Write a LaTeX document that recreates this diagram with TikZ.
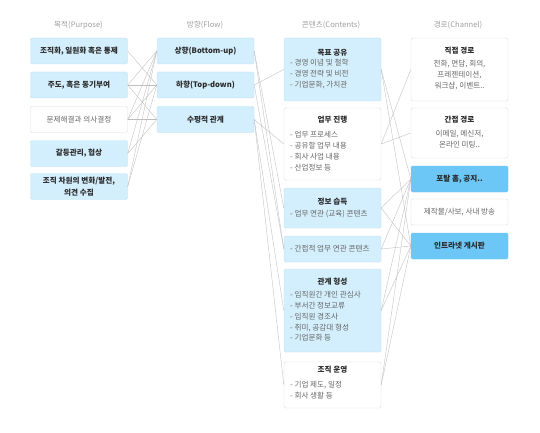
\documentclass[tikz,border=0pt]{standalone}
\usepackage{fontspec}
\setmainfont{Noto Sans CJK KR}
\usetikzlibrary{positioning}

\definecolor{boxblue}{HTML}{D3EEFC}
\definecolor{blueedge}{HTML}{C2E3F5}
\definecolor{deepblue}{HTML}{6CC7F6}
\definecolor{boxedge}{HTML}{DEDEDE}
\definecolor{textdark}{HTML}{2A2A2A}
\definecolor{textgray}{HTML}{666666}
\definecolor{headgray}{HTML}{A0A0A0}
\definecolor{linkgray}{HTML}{BDBDBD}

\newcommand\boxfont{\fontsize{7.6}{11}\selectfont}

\tikzset{
  box/.style={draw=boxedge, line width=0.4pt, rounded corners=1.5pt,
    minimum width=97pt, minimum height=26pt, inner sep=0pt},
  bluebox/.style={box, fill=boxblue, draw=blueedge, font=\boxfont\bfseries, text=textdark},
  whitebox/.style={box, fill=white, font=\boxfont, text=textgray},
  deepbox/.style={box, fill=deepblue, draw=deepblue, font=\boxfont\bfseries, text=textdark},
  head/.style={font=\boxfont, text=headgray, inner sep=0pt},
  title/.style={font=\boxfont\bfseries, text=textdark, inner sep=0pt},
  items/.style={font=\boxfont, text=textgray, inner sep=0pt},
  link/.style={draw=linkgray, line width=0.35pt},
}

\begin{document}
\begin{tikzpicture}[x=1pt, y=-1pt]
  \useasboundingbox[fill=white] (0,0) rectangle (540,433);

  % column heads
  \node[head] (hpurpose) at (78.5,25) {목적(Purpose)};
  \node[head] (hflow)    at (205,25)  {방향(Flow)};
  \node[head] (hcontent) at (331,25)  {콘텐츠(Contents)};
  \node[head] (hchannel) at (458,25)  {경로(Channel)};

  % purpose
  \node[bluebox]  (p1) at (79,51)    {조직화, 일원화 혹은 통제};
  \node[bluebox]  (p2) at (79,85)    {주도, 혹은 동기부여};
  \node[whitebox] (p3) at (79,119.5) {문제해결과 의사결정};
  \node[bluebox]  (p4) at (79,153.5) {갈등관리, 협상};
  \node[bluebox, align=center, font=\fontsize{7.6}{12}\selectfont\bfseries]
                  (p5) at (79,186.5) {조직 차원의 변화/발전,\\의견 수집};

  % flow
  \node[bluebox] (f1) at (205.5,51)    {상향(Bottom-up)};
  \node[bluebox] (f2) at (205.5,85)    {하향(Top-down)};
  \node[bluebox] (f3) at (205.5,119.5) {수평적 관계};

  % contents
  \node[bluebox, minimum height=63pt]  (c1) at (332.5,69.5) {};
  \node[whitebox, minimum height=72pt] (c2) at (332.5,144)  {};
  \node[bluebox, minimum height=40pt]  (c3) at (332.5,208)  {};
  \node[bluebox]                       (c4) at (332.5,249)  {};
  \node[bluebox, minimum height=83pt]  (c5) at (332.5,310.5) {};
  \node[whitebox, minimum height=46pt] (c6) at (332.5,385)  {};

  \node[title] (c1t) at (332.5,53) {목표 공유};
  \node[items, align=left, anchor=west] (c1l) at (290,74.5)
    {- 경영 이념 및 철학\\- 경영 전략 및 비전\\- 기업문화, 가치관};
  \node[title] (c2t) at (332.5,119.5) {업무 진행};
  \node[items, align=left, anchor=west] (c2l) at (290,151.5)
    {- 업무 프로세스\\- 공유할 업무 내용\\- 회사 사업 내용\\- 산업정보 등};
  \node[title] (c3t) at (332.5,202) {정보 습득};
  \node[items, anchor=west] (c3l) at (290,214) {- 업무 연관 (교육) 콘텐츠};
  \node[items, anchor=west] (c4l) at (290,248.5) {- 간접적 업무 연관 콘텐츠};
  \node[title] (c5t) at (332.5,282) {관계 형성};
  \node[items, align=left, anchor=west,
        font=\fontsize{7.6}{10.7}\selectfont] (c5l) at (290,316.5)
    {- 임직원간 개인 관심사\\- 부서간 정보교류\\- 임직원 경조사\\- 취미, 공감대 형성\\- 기업문화 등};
  \node[title] (c6t) at (332.5,370) {조직 운영};
  \node[items, align=left, anchor=west] (c6l) at (290,390.5)
    {- 기업 제도, 일정\\- 회사 생활 등};

  % channel
  \node[whitebox, minimum height=63pt] (ch1) at (459.5,69.5) {};
  \node[whitebox, minimum height=50pt] (ch2) at (459.5,133)  {};
  \node[deepbox]  (ch3) at (459.5,179) {포탈 홈, 공지..};
  \node[whitebox] (ch4) at (459.5,212) {제작물/사보, 사내 방송};
  \node[deepbox]  (ch5) at (459.5,246) {인트라넷 게시판};

  \node[title] (ch1t) at (459.5,51) {직접 경로};
  \node[items, align=center] (ch1l) at (459.5,75.5)
    {전화, 면담, 회의,\\프레젠테이션,\\워크샵, 이벤트..};
  \node[title] (ch2t) at (459.5,119.5) {간접 경로};
  \node[items, align=center] (ch2l) at (459.5,139.5)
    {이메일, 메신저,\\온라인 미팅..};

  % purpose -> flow
  \foreach \a/\b in {p1/f2, p2/f1, p2/f2, p2/f3, p3/f1, p3/f2, p3/f3,
                     p4/f1, p4/f3, p5/f1, p5/f2}
    \draw[link] (\a.east) -- (\b.west);

  % flow -> contents
  \foreach \a/\b in {f1/c3, f1/c4, f2/c1, f2/c4, f3/c2, f3/c5, f3/c6}
    \draw[link] (\a.east) -- (\b.west);

  % contents -> channel
  \foreach \a/\b in {c1/ch3, c1/ch5, c2/ch1, c2/ch2, c3/ch3, c3/ch5,
                     c4/ch3, c4/ch5, c5/ch3, c5/ch5, c6/ch3, c6/ch5}
    \draw[link] (\a.east) -- (\b.west);
\end{tikzpicture}
\end{document}
